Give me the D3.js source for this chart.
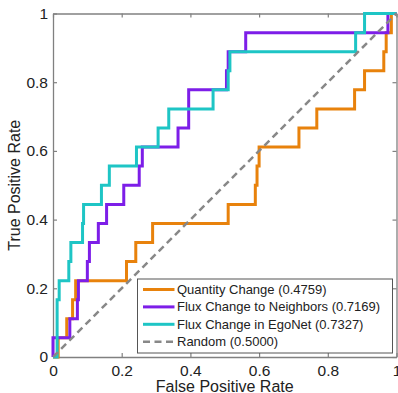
<!DOCTYPE html>
<html>
<head>
<meta charset="utf-8">
<script src="https://cdn.jsdelivr.net/npm/d3@7"></script>
<style>
  body { margin: 0; background: #fff; }
  text { font-family: "Liberation Sans", Arial, Helvetica, sans-serif; fill: #222; }
</style>
</head>
<body>
<div id="chart"></div>
<script>
// Tick values and labels
const tickValues = [0, 0.2, 0.4, 0.6, 0.8, 1];
const tickLabels = ["0", "0.2", "0.4", "0.6", "0.8", "1"];

// ROC corner points (x = FPR, y = TPR), drawn as steps
const quantityFpr = [0, 0.015, 0.040, 0.057, 0.066, 0.214, 0.241, 0.290, 0.510, 0.589, 0.594, 0.600, 0.716, 0.768, 0.878, 0.907, 0.963, 0.970, 0.985, 1];
const quantityTpr = [0, 0.056, 0.111, 0.167, 0.222, 0.278, 0.333, 0.389, 0.444, 0.500, 0.556, 0.611, 0.667, 0.722, 0.778, 0.833, 0.889, 0.944, 1, 1];

const neighborsFpr = [0, 0, 0.049, 0.071, 0.074, 0.100, 0.106, 0.132, 0.156, 0.206, 0.251, 0.260, 0.364, 0.395, 0.505, 0.510, 0.561, 0.975, 1];
const neighborsTpr = [0, 0.056, 0.111, 0.167, 0.222, 0.278, 0.333, 0.389, 0.444, 0.500, 0.556, 0.611, 0.667, 0.778, 0.833, 0.889, 0.944, 1, 1];

const egonetFpr = [0, 0.012, 0.018, 0.046, 0.052, 0.086, 0.089, 0.141, 0.164, 0.243, 0.306, 0.337, 0.466, 0.510, 0.515, 0.881, 0.907, 1];
const egonetTpr = [0, 0.167, 0.222, 0.278, 0.333, 0.389, 0.444, 0.500, 0.556, 0.611, 0.667, 0.722, 0.778, 0.833, 0.889, 0.944, 1, 1];

const randomFpr = [0, 1];
const randomTpr = [0, 1];

const seriesNames = ["Quantity Change", "Flux Change to Neighbors", "Flux Change in EgoNet", "Random"];
const seriesAuc = [0.4759, 0.7169, 0.7327, 0.5000];
const seriesColors = ["#e8820c", "#7d1ee8", "#1ec5c5", "#888888"];

const width = 398, height = 393;
const svg = d3.select("#chart").append("svg")
    .attr("width", width)
    .attr("height", height);

const x = d3.scaleLinear().domain([0, 1]).range([53, 396.5]);
const y = d3.scaleLinear().domain([0, 1]).range([357, 13.5]);

const axisColor = "#808080";

// Axes (inside ticks, mirrored on top and right)
const fmt = (d, i) => tickLabels[i];
const gx = svg.append("g").attr("transform", `translate(0,${y(0)})`)
    .call(d3.axisBottom(x).tickValues(tickValues).tickFormat(fmt).tickSize(-4).tickSizeOuter(0).tickPadding(8));
const gy = svg.append("g").attr("transform", `translate(${x(0)},0)`)
    .call(d3.axisLeft(y).tickValues(tickValues).tickFormat(fmt).tickSize(-4).tickSizeOuter(0).tickPadding(5));
const gt = svg.append("g").attr("transform", `translate(0,${y(1)})`)
    .call(d3.axisTop(x).tickValues(tickValues).tickFormat("").tickSize(-4).tickSizeOuter(0));
const gr = svg.append("g").attr("transform", `translate(${x(1)},0)`)
    .call(d3.axisRight(y).tickValues(tickValues).tickFormat("").tickSize(-4).tickSizeOuter(0));

[gx, gy, gt, gr].forEach(g => {
    g.select(".domain").attr("stroke", axisColor).attr("stroke-width", 1.3);
    g.selectAll(".tick line").attr("stroke", axisColor).attr("stroke-width", 1.2);
    g.selectAll(".tick text").attr("font-size", 15.5).attr("fill", "#222")
        .attr("font-family", "'Liberation Sans', Arial, sans-serif");
});

// Axis titles
svg.append("text")
    .attr("x", (x(0) + x(1)) / 2)
    .attr("y", 391.5)
    .attr("text-anchor", "middle")
    .attr("font-size", 16)
    .text("False Positive Rate");

svg.append("text")
    .attr("transform", `translate(20,${(y(0) + y(1)) / 2}) rotate(-90)`)
    .attr("text-anchor", "middle")
    .attr("font-size", 16)
    .text("True Positive Rate");

// ROC curves
const series = [
    { fpr: quantityFpr, tpr: quantityTpr },
    { fpr: neighborsFpr, tpr: neighborsTpr },
    { fpr: egonetFpr, tpr: egonetTpr },
];

const stepLine = d3.line()
    .x(d => x(d[0]))
    .y(d => y(d[1]))
    .curve(d3.curveStepAfter);

series.forEach((s, i) => {
    svg.append("path")
        .datum(s.fpr.map((v, j) => [v, s.tpr[j]]))
        .attr("d", stepLine)
        .attr("fill", "none")
        .attr("stroke", seriesColors[i])
        .attr("stroke-width", 3);
});

// Random diagonal
svg.append("path")
    .datum(randomFpr.map((v, j) => [v, randomTpr[j]]))
    .attr("d", d3.line().x(d => x(d[0])).y(d => y(d[1])))
    .attr("fill", "none")
    .attr("stroke", seriesColors[3])
    .attr("stroke-width", 2.5)
    .attr("stroke-dasharray", "7,4.5");

// Legend
const legend = svg.append("g");
legend.append("rect")
    .attr("x", 137.5).attr("y", 279)
    .attr("width", 255).attr("height", 74)
    .attr("fill", "#fff")
    .attr("stroke", "#555")
    .attr("stroke-width", 1);

seriesNames.forEach((name, i) => {
    const cy = 289.5 + i * 17.4;
    legend.append("line")
        .attr("x1", 143).attr("x2", 174.5)
        .attr("y1", cy).attr("y2", cy)
        .attr("stroke", seriesColors[i])
        .attr("stroke-width", i === 3 ? 2.5 : 3)
        .attr("stroke-dasharray", i === 3 ? "7,4.5" : null);
    legend.append("text")
        .attr("x", 177).attr("y", cy)
        .attr("dy", "0.35em")
        .attr("font-size", 13)
        .text(`${name} (${seriesAuc[i].toFixed(4)})`);
});
</script>
</body>
</html>
